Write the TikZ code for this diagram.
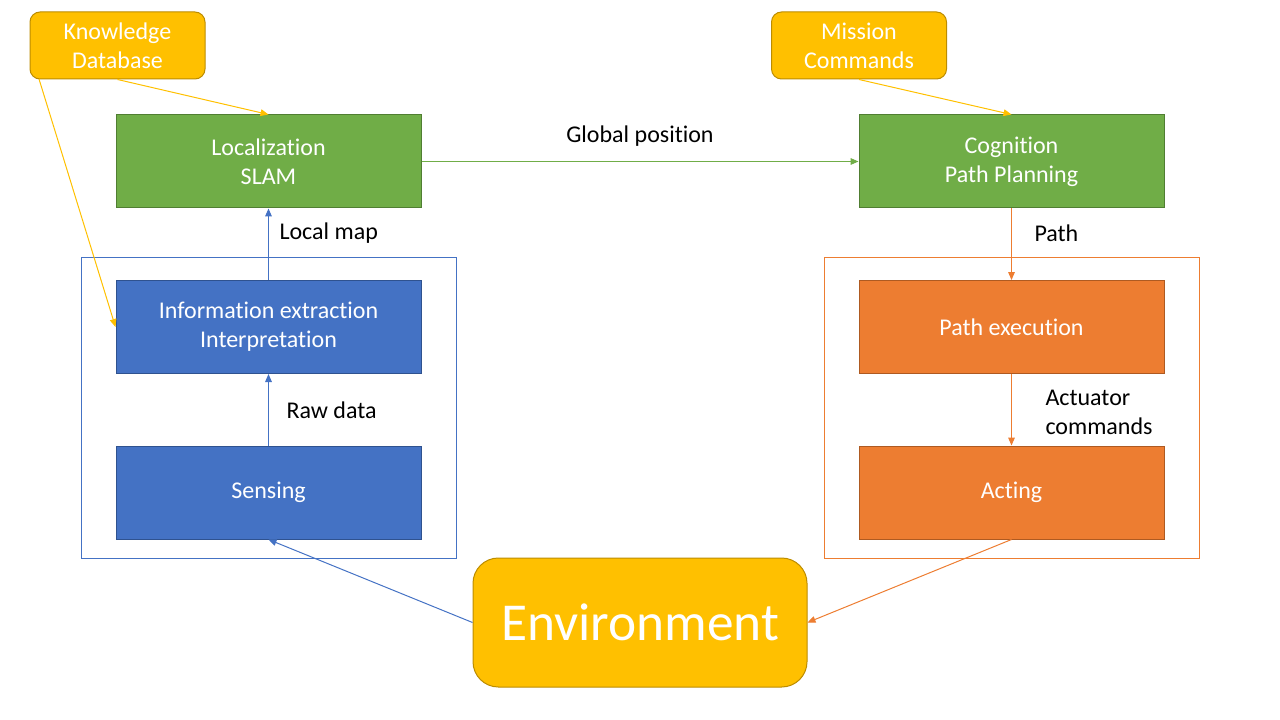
\documentclass[tikz,border=0pt]{standalone}
\usepackage{fontspec}
\setmainfont{Carlito}[Ligatures=NoCommon]
\usetikzlibrary{arrows.meta}
\definecolor{gold}{HTML}{FFC000}
\definecolor{goldline}{HTML}{BC8C00}
\definecolor{leaf}{HTML}{70AD47}
\definecolor{leafline}{HTML}{507E32}
\definecolor{sky}{HTML}{4472C4}
\definecolor{skyline}{HTML}{2F528F}
\definecolor{rust}{HTML}{ED7D31}
\definecolor{rustline}{HTML}{AE5A21}
\begin{document}
\begin{tikzpicture}[x=0.75pt,y=-0.75pt,line width=0.75pt,
  >={Triangle[length=6pt,width=5pt]},
  box/.style={draw,minimum width=228.75pt,minimum height=69.75pt,inner sep=0pt,
    text=white,align=center,font=\fontsize{18}{21.6}\selectfont},
  goal/.style={draw=goldline,fill=gold,rounded corners=7.5pt,minimum width=131.25pt,
    minimum height=50.25pt,inner sep=0pt,text=white,align=center,
    font=\fontsize{18}{21.6}\selectfont},
  lbl/.style={anchor=west,inner sep=0pt,align=left,font=\fontsize{18}{21.6}\selectfont}]
\useasboundingbox (0,0) rectangle (1280,720);

\node[goal] (kdb) at (117.5,45.5) {Knowledge\\Database};
\node[goal] (mis) at (859,45.5) {Mission\\Commands};
\node[box,fill=leaf,draw=leafline] (loc) at (268.5,161.5) {Localization\\SLAM};
\node[box,fill=leaf,draw=leafline] (cog) at (1011.5,161.5) {Cognition\\Path Planning};
\node[box,fill=sky,draw=skyline] (inf) at (268.5,327) {Information extraction\\Interpretation};
\node[box,fill=sky,draw=skyline] (sen) at (268.5,492.5) {Sensing};
\node[box,fill=rust,draw=rustline] (exe) at (1011.5,327) {Path execution};
\node[box,fill=rust,draw=rustline] (act) at (1011.5,492.5) {Acting};
\node[draw=goldline,fill=gold,rounded corners=19pt,minimum width=250.5pt,minimum height=96.75pt,
  text=white,font=\fontsize{40}{48}\selectfont] (env) at (640,622.5) {Environment};
\coordinate (kdbfoot) at (39,79);

\draw[sky] (81,257) rectangle (456,558);
\draw[rust] (824,257) rectangle (1199,558);

\draw[->,gold] (kdb.south) -- (loc.north);
\draw[->,gold] (kdbfoot) -- (inf.west);
\draw[->,gold] (mis.south) -- (cog.north);
\draw[->,leaf] (loc) -- (cog);
\draw[->,sky] (inf) -- (loc);
\draw[->,sky] (sen) -- (inf);
\draw[->,sky] (env.west) -- (sen.south);
\draw[->,rust] (cog) -- (exe);
\draw[->,rust] (exe) -- (act);
\draw[->,rust] (act.south) -- (env.east);

\node[font=\fontsize{18}{21.6}\selectfont] (gp) at (640,136) {Global position};
\node[lbl] (lm) at (279,233) {Local map};
\node[lbl] (rd) at (286,410) {Raw data};
\node[lbl] (pa) at (1034,233) {Path};
\node[lbl] (ac) at (1045,412) {Actuator\\commands};
\end{tikzpicture}
\end{document}
